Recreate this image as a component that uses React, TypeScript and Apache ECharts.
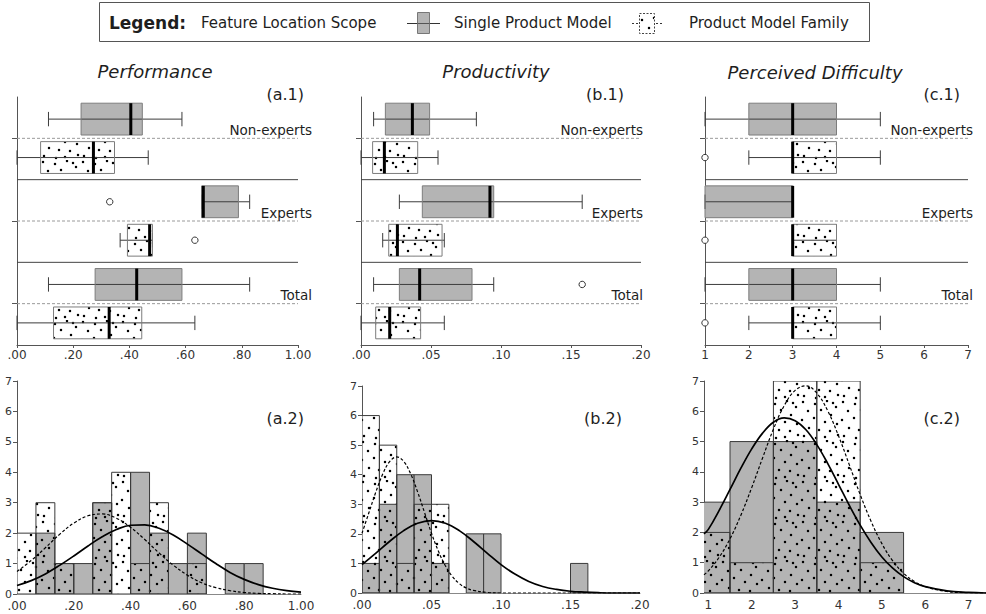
import React, { useEffect, useRef } from 'react';
import * as echarts from 'echarts';

// ---------- DATA ----------
const groups = ['Non-experts', 'Experts', 'Total'];

// boxplot stats [min, Q1, median, Q3, max] per group (Non-experts, Experts, Total)
const perfSingle = [[0.112, 0.228, 0.405, 0.446, 0.587], [0.657, 0.657, 0.663, 0.788, 0.828], [0.112, 0.278, 0.426, 0.587, 0.828]];
const perfFamily = [[0, 0.084, 0.272, 0.347, 0.467], [0.367, 0.393, 0.472, 0.482, 0.482], [0, 0.13, 0.328, 0.444, 0.633]];
const perfOutSingle = [[1, 0.33]];
const perfOutFamily = [[1, 0.633]];

const prodSingle = [[0.009, 0.0174, 0.0367, 0.049, 0.0824], [0.0274, 0.0438, 0.0921, 0.0948, 0.158], [0.009, 0.0274, 0.0419, 0.0793, 0.0948]];
const prodFamily = [[0, 0.0083, 0.0167, 0.0405, 0.055], [0.0155, 0.0198, 0.026, 0.0579, 0.0595], [0, 0.0105, 0.0205, 0.0426, 0.0595]];
const prodOutSingle = [[2, 0.158]];
const prodOutFamily: number[][] = [];

const diffSingle = [[1, 2, 3, 4, 5], [1, 1, 3, 3, 3], [1, 2, 3, 4, 5]];
const diffFamily = [[2, 3, 3, 4, 5], [3, 3, 3, 4, 4], [2, 3, 3, 4, 5]];
const diffOutSingle: number[][] = [];
const diffOutFamily = [[0, 1], [1, 1], [2, 1]];

// tick labels
const perfTicks = [0, 0.2, 0.4, 0.6, 0.8, 1];
const perfTickLabels = ['.00', '.20', '.40', '.60', '.80', '1.00'];
const prodTicks = [0, 0.05, 0.1, 0.15, 0.2];
const prodTickLabels = ['.00', '.05', '.10', '.15', '.20'];
const diffTicks = [1, 2, 3, 4, 5, 6, 7];
const diffTickLabels = ['1', '2', '3', '4', '5', '6', '7'];

// histograms: bin edges and counts
const perfEdges = [0, 0.0667, 0.1333, 0.2, 0.2667, 0.3333, 0.4, 0.4667, 0.5333, 0.6, 0.6667, 0.7333, 0.8, 0.8667];
const perfHistSingle = [0, 2, 1, 1, 3, 0, 4, 2, 1, 2, 0, 1, 1];
const perfHistFamily = [2, 3, 1, 0, 3, 4, 1, 3, 0, 1, 0, 0, 0];

const prodEdges = [0, 0.0125, 0.025, 0.0375, 0.05, 0.0625, 0.075, 0.0875, 0.1, 0.1125, 0.125, 0.1375, 0.15, 0.1625];
const prodHistSingle = [1, 3, 4, 4, 1, 0, 2, 2, 0, 0, 0, 0, 1];
const prodHistFamily = [6, 5, 1, 3, 3, 0, 0, 0, 0, 0, 0, 0, 0];

const diffEdges = [0.5, 1.5, 2.5, 3.5, 4.5, 5.5];
const diffHistSingle = [3, 5, 5, 3, 2];
const diffHistFamily = [2, 1, 7, 7, 1];

// fitted normal curves
const perfCurveX = [0, 0.05, 0.1, 0.15, 0.2, 0.25, 0.3, 0.35, 0.4, 0.45, 0.5, 0.55, 0.6, 0.65, 0.7, 0.75, 0.8, 0.85, 0.9, 0.95, 1.0];
const perfCurveSingle = [0.28, 0.44, 0.66, 0.94, 1.25, 1.58, 1.88, 2.12, 2.26, 2.27, 2.16, 1.94, 1.64, 1.32, 1.0, 0.71, 0.48, 0.31, 0.19, 0.11, 0.06];
const perfCurveFamily = [0.74, 1.1, 1.52, 1.96, 2.33, 2.57, 2.63, 2.49, 2.19, 1.79, 1.35, 0.95, 0.62, 0.37, 0.21, 0.11, 0.05, 0.02, 0.01, 0, 0];

const prodCurveSingleX = [0, 0.01, 0.02, 0.03, 0.04, 0.05, 0.06, 0.07, 0.08, 0.09, 0.1, 0.11, 0.12, 0.13, 0.14, 0.15, 0.16, 0.17, 0.18, 0.19, 0.2];
const prodCurveSingle = [0.96, 1.35, 1.75, 2.11, 2.36, 2.45, 2.36, 2.11, 1.75, 1.35, 0.96, 0.64, 0.39, 0.22, 0.12, 0.06, 0.03, 0.01, 0, 0, 0];
const prodCurveFamilyX = [0, 0.005, 0.01, 0.015, 0.02, 0.025, 0.03, 0.035, 0.04, 0.045, 0.05, 0.055, 0.06, 0.065, 0.07, 0.075, 0.08, 0.09, 0.1, 0.15, 0.2];
const prodCurveFamily = [2.02, 2.72, 3.42, 4.03, 4.45, 4.6, 4.45, 4.03, 3.42, 2.72, 2.02, 1.41, 0.92, 0.56, 0.32, 0.17, 0.09, 0.02, 0, 0, 0];

const diffCurveX = [0.9, 1.0, 1.25, 1.5, 1.75, 2.0, 2.25, 2.5, 2.75, 3.0, 3.25, 3.5, 3.75, 4.0, 4.25, 4.5, 4.75, 5.0, 5.25, 5.5, 5.75, 6.0, 6.5, 7.0, 7.4];
const diffCurveSingle = [1.95, 2.1, 2.73, 3.42, 4.12, 4.76, 5.28, 5.64, 5.78, 5.69, 5.39, 4.9, 4.28, 3.59, 2.89, 2.24, 1.67, 1.19, 0.82, 0.54, 0.34, 0.21, 0.07, 0.02, 0];
const diffCurveFamily = [0.6, 0.73, 1.18, 1.79, 2.57, 3.48, 4.46, 5.41, 6.19, 6.69, 6.84, 6.6, 6.02, 5.19, 4.23, 3.25, 2.37, 1.63, 1.06, 0.65, 0.38, 0.21, 0.05, 0.01, 0];

// ---------- STYLE / LAYOUT ----------
const FONT = '"DejaVu Sans", Verdana, sans-serif';
const GRAY = '#b4b4b4';
const TEXT = '#1e1e1e';
const AXIS = '#555';

// texture tile for the "Product Model Family" fill (scattered dots)
const dotTile = [
  [3, 2], [15, 4], [27, 1], [36, 7], [8, 11], [21, 10], [31, 15], [2, 20], [14, 18], [25, 22],
  [37, 24], [9, 28], [19, 30], [30, 31], [4, 36], [16, 38], [25, 37], [38, 35], [33, 3],
];
const TILE = 40;
const tileSvg =
  `<svg xmlns='http://www.w3.org/2000/svg' width='${TILE}' height='${TILE}'>` +
  dotTile.map(([x, y]) => `<circle cx='${x}' cy='${y}' r='1.25' fill='black'/>`).join('') +
  '</svg>';
const dotPattern: any = {
  image: 'data:image/svg+xml;charset=utf-8,' + encodeURIComponent(tileSvg),
  repeat: 'repeat',
  imageWidth: TILE,
  imageHeight: TILE,
};

const topGrids = [
  { left: 17, top: 97, width: 281, height: 248 },
  { left: 361, top: 97, width: 280, height: 248 },
  { left: 705, top: 97, width: 263, height: 248 },
];
const bottomGrids = [
  { left: 17, top: 381, width: 284, height: 213 },
  { left: 362, top: 386, width: 278, height: 207 },
  { left: 704, top: 381, width: 284, height: 212 },
];
const labelDx = [14, 2, 5];

const panels = [
  {
    single: perfSingle, family: perfFamily, outS: perfOutSingle, outF: perfOutFamily,
    ticks: perfTicks, tickLabels: perfTickLabels, min: 0, max: 1, hMin: 0, hMax: 1,
    edges: perfEdges, hS: perfHistSingle, hF: perfHistFamily,
    cSX: perfCurveX, cS: perfCurveSingle, cFX: perfCurveX, cF: perfCurveFamily,
  },
  {
    single: prodSingle, family: prodFamily, outS: prodOutSingle, outF: prodOutFamily,
    ticks: prodTicks, tickLabels: prodTickLabels, min: 0, max: 0.2, hMin: 0, hMax: 0.2,
    edges: prodEdges, hS: prodHistSingle, hF: prodHistFamily,
    cSX: prodCurveSingleX, cS: prodCurveSingle, cFX: prodCurveFamilyX, cF: prodCurveFamily,
  },
  {
    single: diffSingle, family: diffFamily, outS: diffOutSingle, outF: diffOutFamily,
    ticks: diffTicks, tickLabels: diffTickLabels, min: 1, max: 7, hMin: 0.9, hMax: 7.4,
    edges: diffEdges, hS: diffHistSingle, hF: diffHistFamily,
    cSX: diffCurveX, cS: diffCurveSingle, cFX: diffCurveX, cF: diffCurveFamily,
  },
];

function rowY(api: any, g: number, s: number) {
  const band = api.size([0, 1])[1];
  const center = api.coord([0, g])[1];
  const h = band * 0.385;
  const gap = band * 0.04;
  const cy = s === 0 ? center - gap - h / 2 : center + gap + h / 2;
  return { cy, h, band };
}

function fmt(ticks: number[], labels: string[]) {
  return (v: number) => {
    const i = ticks.findIndex((t) => Math.abs(t - v) < 1e-9);
    return i >= 0 ? labels[i] : '';
  };
}

function txt(text: string, x: number, y: number, size: number, align: string, extra: any = {}) {
  return {
    type: 'text',
    x,
    y,
    silent: true,
    style: {
      text,
      fill: TEXT,
      fontSize: size,
      fontFamily: FONT,
      align,
      textAlign: align,
      verticalAlign: 'middle',
      textVerticalAlign: 'middle',
      ...extra,
    },
  };
}

function buildOption() {
  const grid: any[] = [];
  const xAxis: any[] = [];
  const yAxis: any[] = [];
  const series: any[] = [];

  // top row (grid 0..2)
  panels.forEach((p, i) => {
    grid.push({ ...topGrids[i], containLabel: false });
    xAxis.push({
      gridIndex: i, type: 'value', min: p.min, max: p.max,
      axisLine: { show: true, lineStyle: { color: AXIS } },
      axisTick: { show: true, length: 3, customValues: p.ticks, lineStyle: { color: AXIS } },
      axisLabel: { customValues: p.ticks, formatter: fmt(p.ticks, p.tickLabels), fontSize: 12, color: '#333', margin: 4, fontFamily: FONT },
      splitLine: { show: false },
    });
    yAxis.push({
      gridIndex: i, type: 'category', data: groups, inverse: true,
      axisLine: { show: true, lineStyle: { color: AXIS } },
      axisTick: { show: true, alignWithLabel: true, length: 5, lineStyle: { color: AXIS } },
      axisLabel: { show: false },
      splitLine: { show: false },
    });

    const dx = labelDx[i];
    series.push({
      type: 'custom', xAxisIndex: i, yAxisIndex: i, z: 1, silent: true,
      encode: { y: 0, x: 1 },
      data: groups.map((_, g) => [g, p.min]),
      renderItem: (params: any, api: any) => {
        const g = api.value(0);
        const cs = params.coordSys;
        const band = api.size([0, 1])[1];
        const cy = api.coord([p.min, g])[1];
        const children: any[] = [
          { type: 'line', shape: { x1: cs.x, y1: cy, x2: cs.x + cs.width, y2: cy }, style: { stroke: '#9a9a9a', lineWidth: 1, lineDash: [3, 2] } },
        ];
        if (g < groups.length - 1) {
          const sy = cy + band / 2;
          children.push({ type: 'line', shape: { x1: cs.x, y1: sy, x2: cs.x + cs.width, y2: sy }, style: { stroke: '#444', lineWidth: 1 } });
        }
        children.push(txt(groups[g], cs.x + cs.width + dx, cy - 8.5, 13.5, 'right'));
        return { type: 'group', children };
      },
    });

    const boxData = [
      ...p.single.map((r, g) => [g, 0, ...r]),
      ...p.family.map((r, g) => [g, 1, ...r]),
    ];
    series.push({
      type: 'custom', xAxisIndex: i, yAxisIndex: i, z: 2, silent: true,
      encode: { y: 0, x: [2, 3, 4, 5, 6] },
      data: boxData,
      renderItem: (params: any, api: any) => {
        const g = api.value(0);
        const s = api.value(1);
        const { cy, h, band } = rowY(api, g, s);
        const X = (v: number) => api.coord([v, g])[0];
        const xMin = X(api.value(2));
        const xQ1 = X(api.value(3));
        const xMed = X(api.value(4));
        const xQ3 = X(api.value(5));
        const xMax = X(api.value(6));
        const capH = band * 0.087;
        const rect = { x: xQ1, y: cy - h / 2, width: xQ3 - xQ1, height: h };
        const children: any[] = [
          { type: 'rect', shape: rect, style: { fill: s === 0 ? GRAY : '#fff', stroke: null } },
        ];
        if (s === 1) children.push({ type: 'rect', shape: rect, style: { fill: dotPattern, stroke: null } });
        children.push(
          { type: 'line', shape: { x1: xMin, y1: cy, x2: xMax, y2: cy }, style: { stroke: '#3c3c3c', lineWidth: 1 } },
          { type: 'line', shape: { x1: xMin, y1: cy - capH, x2: xMin, y2: cy + capH }, style: { stroke: '#3c3c3c', lineWidth: 1 } },
          { type: 'line', shape: { x1: xMax, y1: cy - capH, x2: xMax, y2: cy + capH }, style: { stroke: '#3c3c3c', lineWidth: 1 } },
          { type: 'rect', shape: rect, style: { fill: null, stroke: '#7d7d7d', lineWidth: 1 } },
          { type: 'line', shape: { x1: xMed, y1: cy - h / 2, x2: xMed, y2: cy + h / 2 }, style: { stroke: '#000', lineWidth: 3 } },
        );
        return { type: 'group', children };
      },
    });

    const outData = [
      ...p.outS.map(([g, v]) => [g, 0, v]),
      ...p.outF.map(([g, v]) => [g, 1, v]),
    ];
    series.push({
      type: 'custom', xAxisIndex: i, yAxisIndex: i, z: 3, silent: true,
      encode: { y: 0, x: 2 },
      data: outData,
      renderItem: (params: any, api: any) => {
        const g = api.value(0);
        const s = api.value(1);
        const { cy } = rowY(api, g, s);
        const x = api.coord([api.value(2), g])[0];
        return { type: 'circle', shape: { cx: x, cy, r: 3.2 }, style: { fill: '#fff', stroke: '#333', lineWidth: 1 } };
      },
    });
  });

  // bottom row (grid 3..5)
  panels.forEach((p, i) => {
    const bi = 3 + i;
    grid.push({ ...bottomGrids[i], containLabel: false });
    xAxis.push({
      gridIndex: bi, type: 'value', min: p.hMin, max: p.hMax,
      axisLine: { show: true, lineStyle: { color: '#888' } },
      axisTick: { show: false, customValues: p.ticks },
      axisLabel: { customValues: p.ticks, formatter: fmt(p.ticks, p.tickLabels), fontSize: 12, color: '#333', margin: 6, fontFamily: FONT },
      splitLine: { show: false },
    });
    yAxis.push({
      gridIndex: bi, type: 'value', min: 0, max: 7, interval: 1,
      axisLine: { show: true, lineStyle: { color: AXIS } },
      axisTick: { show: true, length: 4, lineStyle: { color: AXIS } },
      axisLabel: { fontSize: 11, color: '#333', margin: 5, fontFamily: FONT },
      splitLine: { show: false },
    });

    const barItem = (kind: string) => (params: any, api: any) => {
      const n = api.value(2);
      if (!n) return { type: 'group', children: [] };
      const p0 = api.coord([api.value(0), n]);
      const p1 = api.coord([api.value(1), 0]);
      const shape = { x: p0[0], y: p0[1], width: p1[0] - p0[0], height: p1[1] - p0[1] };
      let style: any;
      if (kind === 'under') style = { fill: '#fff', stroke: null };
      else if (kind === 'single') style = { fill: GRAY, stroke: '#3a3a3a', lineWidth: 1 };
      else style = { fill: dotPattern, stroke: '#3a3a3a', lineWidth: 1 };
      return { type: 'rect', shape, style };
    };
    const famBins = p.hF.map((n, k) => [p.edges[k], p.edges[k + 1], n]);
    const sinBins = p.hS.map((n, k) => [p.edges[k], p.edges[k + 1], n]);
    [['under', famBins, 1], ['single', sinBins, 2], ['top', famBins, 3]].forEach(([kind, data, z]: any) => {
      series.push({
        type: 'custom', xAxisIndex: bi, yAxisIndex: bi, z, silent: true, clip: true,
        encode: { x: [0, 1], y: 2 },
        data,
        renderItem: barItem(kind),
      });
    });

    series.push({
      type: 'line', xAxisIndex: bi, yAxisIndex: bi, z: 5, silent: true,
      smooth: 0.4, symbol: 'none',
      lineStyle: { color: '#000', width: 1.7 },
      data: p.cSX.map((x, k) => [x, p.cS[k]]),
    });
    series.push({
      type: 'line', xAxisIndex: bi, yAxisIndex: bi, z: 5, silent: true,
      smooth: 0.4, symbol: 'none',
      lineStyle: { color: '#000', width: 1.2, type: [3, 2] },
      data: p.cFX.map((x, k) => [x, p.cF[k]]),
    });
  });

  const graphic: any[] = [
    { type: 'rect', shape: { x: 99.5, y: 2.5, width: 770, height: 39 }, style: { fill: '#fff', stroke: '#555', lineWidth: 1 }, silent: true, z: 0 },
    txt('Legend:', 109, 23, 17, 'left', { fontWeight: 'bold' }),
    txt('Feature Location Scope', 201, 23, 15, 'left'),
    { type: 'line', shape: { x1: 407, y1: 23.5, x2: 440, y2: 23.5 }, style: { stroke: '#333', lineWidth: 1 }, silent: true },
    { type: 'rect', shape: { x: 417.5, y: 12.5, width: 12, height: 21 }, style: { fill: GRAY, stroke: '#777', lineWidth: 1 }, silent: true },
    { type: 'line', shape: { x1: 417.5, y1: 23.5, x2: 429.5, y2: 23.5 }, style: { stroke: '#555', lineWidth: 1 }, silent: true },
    txt('Single Product Model', 454, 23, 15, 'left'),
    { type: 'line', shape: { x1: 632, y1: 23.5, x2: 662, y2: 23.5 }, style: { stroke: '#333', lineWidth: 1, lineDash: [2, 2] }, silent: true },
    { type: 'rect', shape: { x: 639.5, y: 13.5, width: 15, height: 20 }, style: { fill: '#fff', stroke: '#444', lineWidth: 1, lineDash: [2, 1.5] }, silent: true },
    { type: 'rect', shape: { x: 640, y: 14, width: 14, height: 19 }, style: { fill: dotPattern, stroke: null }, silent: true },
    txt('Product Model Family', 689, 23, 15, 'left'),
    txt('Performance', 155, 71, 18, 'center', { fontStyle: 'italic' }),
    txt('Productivity', 496, 71, 18, 'center', { fontStyle: 'italic' }),
    txt('Perceived Difficulty', 815, 72, 18, 'center', { fontStyle: 'italic' }),
    txt('(a.1)', 304, 94, 16, 'right'),
    txt('(b.1)', 624, 94, 16, 'right'),
    txt('(c.1)', 960, 94, 16, 'right'),
    txt('(a.2)', 304, 418, 16, 'right'),
    txt('(b.2)', 622, 418, 16, 'right'),
    txt('(c.2)', 960, 418, 16, 'right'),
  ];

  return {
    animation: false,
    backgroundColor: '#fff',
    textStyle: { fontFamily: FONT },
    grid,
    xAxis,
    yAxis,
    series,
    graphic,
  };
}

export default function App() {
  const ref = useRef<HTMLDivElement>(null);
  useEffect(() => {
    const chart = echarts.init(ref.current!, null, { renderer: 'svg' });
    chart.setOption(buildOption());
    return () => chart.dispose();
  }, []);
  return (
    <div
      ref={ref}
      style={{ position: 'absolute', left: 0, top: 0, width: 986, height: 614, background: '#fff' }}
    />
  );
}
